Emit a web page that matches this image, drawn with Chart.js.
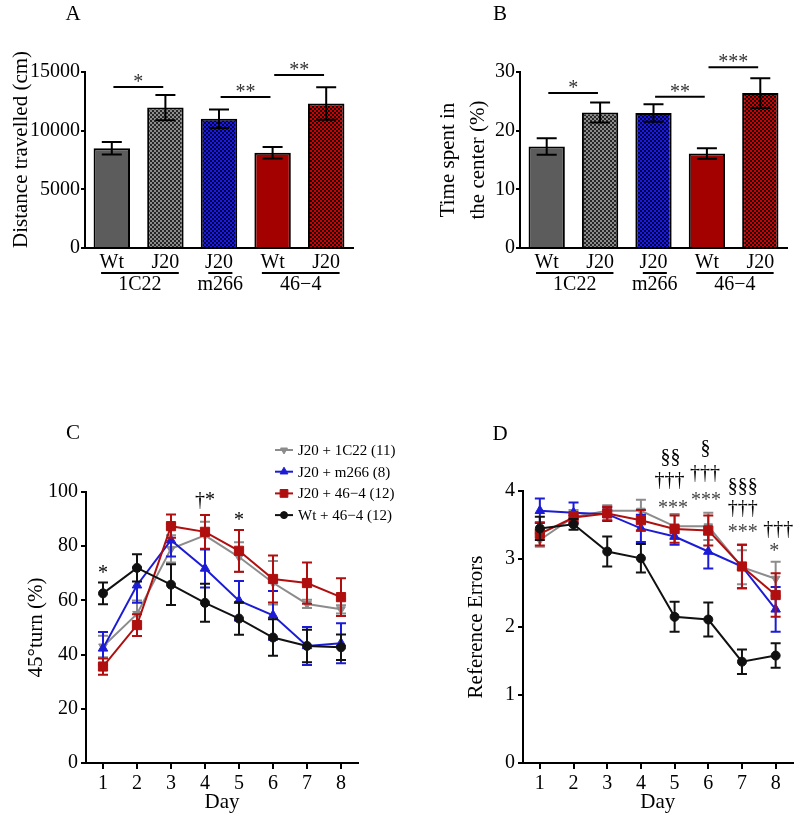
<!DOCTYPE html>
<html>
<head>
<meta charset="utf-8">
<script src="https://cdn.jsdelivr.net/npm/chart.js@4.4.1/dist/chart.umd.min.js"></script>
<style>
  body { margin: 0; background: #fff; }
  #fig { position: relative; width: 800px; height: 815px; background: #fff; }
  #fig canvas { position: absolute; }
</style>
</head>
<body>
<div id="fig">
  <canvas id="chartA" width="400" height="300" style="left:0;top:0"></canvas>
  <canvas id="chartB" width="400" height="300" style="left:400px;top:0"></canvas>
  <canvas id="chartC" width="400" height="435" style="left:0;top:380px"></canvas>
  <canvas id="chartD" width="400" height="435" style="left:400px;top:380px"></canvas>
</div>
<script>
// ---- data ----
const barLabels = ['Wt', 'J20', 'J20', 'Wt', 'J20'];
const groupNames = ['1C22', 'm266', '46\u22124'];
const groupFirst = [0, 2, 3];
const groupLast = [1, 2, 4];

const distance = [8500, 11970, 11010, 8120, 12310];
const distanceErr = [540, 1080, 790, 490, 1380];
const centerTime = [17.3, 23.1, 23.0, 16.1, 26.4];
const centerTimeErr = [1.4, 1.7, 1.5, 0.9, 2.55];

// significance bars: pairs of bar indices, height in data units
const sigA = [
  { from: 0, to: 1, y: 13720, mark: '*' },
  { from: 2, to: 3, y: 12870, mark: '**' },
  { from: 3, to: 4, y: 14750, mark: '**' }
];
const sigB = [
  { from: 0, to: 1, y: 26.4, mark: '*' },
  { from: 2, to: 3, y: 25.8, mark: '**' },
  { from: 3, to: 4, y: 30.8, mark: '***' }
];

const days = ['1', '2', '3', '4', '5', '6', '7', '8'];
const groupLabels = ['J20 + 1C22 (11)', 'J20 + m266 (8)', 'J20 + 46\u22124 (12)', 'Wt + 46\u22124 (12)'];

const turnGray = [43, 55, 79, 84, 76, 66.5, 58.7, 56.7];
const turnGrayErr = [4, 5, 5, 5, 5.5, 8, 1.5, 1.5];
const turnBlue = [42.3, 65.6, 82.2, 71.8, 59.9, 54.5, 43.2, 44.2];
const turnBlueErr = [6, 6.5, 6, 7, 7.3, 9, 7, 7.4];
const turnRed = [35.6, 50.9, 87.4, 85.3, 78.3, 67.9, 66.4, 61.2];
const turnRedErr = [3, 4, 4.3, 6.2, 7.7, 8.7, 7.6, 7];
const turnBlack = [62.6, 72, 65.8, 59.1, 53.3, 46.3, 43.2, 42.7];
const turnBlackErr = [4, 5, 7.5, 7, 6, 6.7, 6, 4.7];

const refGray = [3.28, 3.62, 3.71, 3.71, 3.48, 3.48, 2.88, 2.71];
const refGrayErr = [0.1, 0.1, 0.08, 0.16, 0.18, 0.2, 0.25, 0.25];
const refBlue = [3.71, 3.68, 3.66, 3.45, 3.33, 3.11, 2.89, 2.26];
const refBlueErr = [0.18, 0.15, 0.1, 0.2, 0.12, 0.25, 0.32, 0.33];
const refRed = [3.37, 3.61, 3.67, 3.57, 3.44, 3.42, 2.89, 2.47];
const refRedErr = [0.17, 0.08, 0.1, 0.15, 0.2, 0.22, 0.32, 0.32];
const refBlack = [3.45, 3.51, 3.11, 3.01, 2.15, 2.11, 1.49, 1.58];
const refBlackErr = [0.17, 0.08, 0.22, 0.21, 0.22, 0.25, 0.18, 0.18];

// stat marks: day index (category), height in data units
const notesC = [
  { x: 0, y: 71.6, text: '*' },
  { x: 3, y: 97, text: '\u2020*' },
  { x: 4, y: 91.1, text: '*' }
];
const notesD = [
  { x: 3.88, y: 4.49, text: '\u00a7\u00a7' },
  { x: 3.85, y: 4.15, text: '\u2020\u2020\u2020' },
  { x: 3.95, y: 3.81, text: '***', color: '#444' },
  { x: 4.92, y: 4.62, text: '\u00a7' },
  { x: 4.9, y: 4.26, text: '\u2020\u2020\u2020' },
  { x: 4.93, y: 3.93, text: '***', color: '#444' },
  { x: 6.02, y: 4.07, text: '\u00a7\u00a7\u00a7' },
  { x: 6.02, y: 3.74, text: '\u2020\u2020\u2020' },
  { x: 6.02, y: 3.46, text: '***', color: '#444' },
  { x: 7.08, y: 3.43, text: '\u2020\u2020\u2020' },
  { x: 6.96, y: 3.18, text: '*', color: '#444' }
];

// ---- look ----
const FONT = 'Liberation Serif';
Chart.defaults.font.family = FONT;
Chart.defaults.color = '#000';
Chart.defaults.animation = false;

const colors = {
  gray: '#8c8c8c',
  blue: '#1c1cd6',
  red: '#b00f0f',
  black: '#111111'
};

function checker(light, dark) {
  const c = document.createElement('canvas');
  c.width = c.height = 4;
  const g = c.getContext('2d');
  g.fillStyle = dark;
  g.fillRect(0, 0, 4, 4);
  g.fillStyle = light;
  g.fillRect(0, 0, 2, 2);
  g.fillRect(2, 2, 2, 2);
  return g.createPattern(c, 'repeat');
}

const barFills = [
  '#5c5c5c',
  checker('#8c8c8c', '#262626'),
  checker('#1818f0', '#050538'),
  '#a30000',
  checker('#d00000', '#1a0000')
];

// ---- plugins ----
const errorBars = {
  id: 'errorBars',
  afterDatasetDraw(chart, args) {
    const ds = chart.data.datasets[args.index];
    if (!ds.errors) return;
    const ctx = chart.ctx;
    const ys = chart.scales.y;
    const w = ds.capHalf || 5;
    ctx.save();
    ctx.strokeStyle = ds.errorColor || ds.borderColor;
    ctx.lineWidth = 2;
    args.meta.data.forEach((el, i) => {
      const top = ys.getPixelForValue(ds.data[i] + ds.errors[i]);
      const bot = ys.getPixelForValue(ds.data[i] - ds.errors[i]);
      ctx.beginPath();
      ctx.moveTo(el.x, top); ctx.lineTo(el.x, bot);
      ctx.moveTo(el.x - w, top); ctx.lineTo(el.x + w, top);
      ctx.moveTo(el.x - w, bot); ctx.lineTo(el.x + w, bot);
      ctx.stroke();
    });
    ctx.restore();
  }
};

function inkText(ctx, text, x, y) {
  // centre the glyph ink on (x, y)
  const m = ctx.measureText(text);
  ctx.textAlign = 'center';
  ctx.textBaseline = 'alphabetic';
  ctx.fillText(text, x, y + (m.actualBoundingBoxAscent - m.actualBoundingBoxDescent) / 2);
}

const notes = {
  id: 'notes',
  afterDraw(chart, args, opts) {
    if (!opts.items) return;
    const ctx = chart.ctx;
    ctx.save();
    ctx.font = opts.size + 'px ' + FONT;
    opts.items.forEach(n => {
      ctx.fillStyle = n.color || '#000';
      inkText(ctx, n.text, chart.scales.x.getPixelForValue(n.x), chart.scales.y.getPixelForValue(n.y));
    });
    ctx.restore();
  }
};

const brackets = {
  id: 'brackets',
  afterDraw(chart, args, opts) {
    if (!opts.items) return;
    const ctx = chart.ctx, xs = chart.scales.x, ys = chart.scales.y;
    ctx.save();
    ctx.strokeStyle = '#000';
    ctx.lineWidth = 2;
    ctx.fillStyle = '#333';
    ctx.font = '20px ' + FONT;
    opts.items.forEach(b => {
      const x1 = xs.getPixelForValue(b.from + 0.03);
      const x2 = xs.getPixelForValue(b.to - 0.04);
      const y = ys.getPixelForValue(b.y);
      ctx.beginPath();
      ctx.moveTo(x1, y); ctx.lineTo(x2, y);
      ctx.stroke();
      inkText(ctx, b.mark, (x1 + x2) / 2, y - 9);
    });
    ctx.restore();
  }
};

const groups = {
  id: 'groups',
  afterDraw(chart, args, opts) {
    if (!opts.names) return;
    const ctx = chart.ctx, xs = chart.scales.x;
    const base = chart.chartArea.bottom;
    ctx.save();
    ctx.strokeStyle = '#000';
    ctx.lineWidth = 2;
    ctx.fillStyle = '#000';
    ctx.font = '20px ' + FONT;
    opts.names.forEach((name, i) => {
      const x1 = xs.getPixelForValue(opts.first[i] - 0.2);
      const x2 = xs.getPixelForValue(opts.last[i] + 0.25);
      ctx.beginPath();
      ctx.moveTo(x1, base + 25); ctx.lineTo(x2, base + 25);
      ctx.stroke();
      ctx.textAlign = 'center';
      ctx.textBaseline = 'middle';
      ctx.fillText(name, (x1 + x2) / 2, base + 37);
    });
    ctx.restore();
  }
};

const panelLetter = {
  id: 'panelLetter',
  afterDraw(chart, args, opts) {
    if (!opts.text) return;
    const ctx = chart.ctx;
    ctx.save();
    ctx.font = '21px ' + FONT;
    ctx.fillStyle = '#000';
    inkText(ctx, opts.text, opts.x, opts.y);
    ctx.restore();
  }
};

const lineLegend = {
  id: 'lineLegend',
  afterDraw(chart, args, opts) {
    if (!opts.show) return;
    const ctx = chart.ctx;
    ctx.save();
    chart.data.datasets.forEach((ds, i) => {
      const y = opts.y + i * opts.gap;
      ctx.strokeStyle = ds.borderColor;
      ctx.fillStyle = ds.backgroundColor;
      ctx.lineWidth = 2;
      ctx.beginPath();
      ctx.moveTo(opts.x, y); ctx.lineTo(opts.x + 18, y);
      ctx.stroke();
      ctx.lineWidth = 1;
      Chart.helpers.drawPoint(ctx, {
        pointStyle: ds.pointStyle, radius: ds.pointRadius - 1,
        rotation: ds.pointRotation || 0, borderWidth: 1
      }, opts.x + 9, y);
      ctx.fillStyle = '#000';
      ctx.font = '15px ' + FONT;
      ctx.textAlign = 'left';
      ctx.textBaseline = 'middle';
      ctx.fillText(ds.label, opts.x + 23, y + 1);
    });
    ctx.restore();
  }
};

Chart.register(errorBars, notes, brackets, groups, panelLetter, lineLegend);

// ---- shared axis pieces ----
const tickFont = { family: FONT, size: 20 };
const titleFont = { family: FONT, size: 21 };

function yAxis(max, step, width, tickLen, title) {
  return {
    min: 0, max: max,
    ticks: { stepSize: step, font: tickFont, color: '#000', padding: tickLen === 4 ? 1 : 3, callback: v => String(v) },
    grid: { display: true, drawOnChartArea: false, tickLength: tickLen, color: '#000', lineWidth: 2 },
    border: { color: '#000', width: 2 },
    title: title,
    afterFit(s) { s.width = width; s.paddingTop = 0; s.paddingBottom = 0; }
  };
}

function barChart(id, values, errs, sig, yMax, yStep, yWidth, pad, title, letter) {
  return new Chart(id, {
    type: 'bar',
    data: {
      labels: barLabels,
      datasets: [{
        data: values,
        errors: errs,
        errorColor: '#000',
        capHalf: 10,
        backgroundColor: barFills,
        borderColor: '#000',
        borderWidth: 2,
        barPercentage: 0.68,
        categoryPercentage: 1
      }]
    },
    options: {
      responsive: false,
      layout: { padding: pad },
      scales: {
        x: {
          grid: { display: false, drawTicks: false },
          border: { color: '#000', width: 2 },
          ticks: { font: tickFont, color: '#000', padding: 3 },
          afterFit(s) { s.height = 52; s.paddingLeft = 0; s.paddingRight = 0; }
        },
        y: yAxis(yMax, yStep, yWidth, 4, title)
      },
      plugins: {
        legend: { display: false },
        tooltip: { enabled: false },
        brackets: { items: sig },
        groups: { names: groupNames, first: groupFirst, last: groupLast },
        panelLetter: letter
      }
    }
  });
}

barChart('chartA', distance, distanceErr, sigA, 15000, 5000, 85,
  { left: 0, top: 72, right: 47, bottom: 0 },
  { display: true, text: 'Distance travelled (cm)', font: titleFont, color: '#000', align: 'start', padding: { top: 9, bottom: 0 } },
  { text: 'A', x: 73, y: 13 });

barChart('chartB', centerTime, centerTimeErr, sigB, 30, 10, 120,
  { left: 0, top: 72, right: 13, bottom: 0 },
  { display: true, text: ['Time spent in', 'the center (%)'], font: { family: FONT, size: 21, lineHeight: 1.43 }, color: '#000', padding: { top: 33, bottom: 0 } },
  { text: 'B', x: 100, y: 13 });

function lineSets(gray, grayErr, blue, blueErr, red, redErr, black, blackErr) {
  const base = { borderWidth: 2, pointBorderWidth: 1, tension: 0 };
  return [
    Object.assign({ label: groupLabels[0], data: gray, errors: grayErr, borderColor: colors.gray, backgroundColor: colors.gray, pointBorderColor: colors.gray, pointStyle: 'triangle', pointRotation: 180, pointRadius: 5, order: 3 }, base),
    Object.assign({ label: groupLabels[1], data: blue, errors: blueErr, borderColor: colors.blue, backgroundColor: colors.blue, pointBorderColor: colors.blue, pointStyle: 'triangle', pointRadius: 5.5, order: 2 }, base),
    Object.assign({ label: groupLabels[2], data: red, errors: redErr, borderColor: colors.red, backgroundColor: colors.red, pointBorderColor: colors.red, pointStyle: 'rect', pointRadius: 6.5, order: 1 }, base),
    Object.assign({ label: groupLabels[3], data: black, errors: blackErr, borderColor: colors.black, backgroundColor: colors.black, pointBorderColor: colors.black, pointStyle: 'circle', pointRadius: 4.5, order: 0 }, base)
  ];
}

function lineChart(id, sets, yMax, yStep, yWidth, pad, title, letter, noteItems, legend) {
  return new Chart(id, {
    type: 'line',
    data: { labels: days, datasets: sets },
    options: {
      responsive: false,
      layout: { padding: pad },
      scales: {
        x: {
          type: 'category',
          offset: true,
          grid: { display: true, drawOnChartArea: false, offset: false, tickLength: 6, color: '#000', lineWidth: 2 },
          border: { color: '#000', width: 2 },
          ticks: { font: tickFont, color: '#000', padding: 3 },
          title: { display: true, text: 'Day', font: titleFont, color: '#000', padding: { top: 0, bottom: 0 } },
          afterFit(s) { s.height = 52; s.paddingLeft = 0; s.paddingRight = 0; }
        },
        y: yAxis(yMax, yStep, yWidth, 5, title)
      },
      plugins: {
        legend: { display: false },
        tooltip: { enabled: false },
        notes: { items: noteItems, size: 20 },
        panelLetter: letter,
        lineLegend: legend
      }
    }
  });
}

lineChart('chartC',
  lineSets(turnGray, turnGrayErr, turnBlue, turnBlueErr, turnRed, turnRedErr, turnBlack, turnBlackErr),
  100, 20, 86,
  { left: 0, top: 112, right: 42, bottom: 0 },
  { display: true, text: '45\u00b0turn (%)', font: titleFont, color: '#000', padding: { top: 24, bottom: 0 } },
  { text: 'C', x: 73, y: 52 },
  notesC,
  { show: true, x: 275, y: 70, gap: 21.7 });

lineChart('chartD',
  lineSets(refGray, refGrayErr, refBlue, refBlueErr, refRed, refRedErr, refBlack, refBlackErr),
  4, 1, 123,
  { left: 0, top: 111, right: 3, bottom: 0 },
  { display: true, text: 'Reference Errors', font: titleFont, color: '#000', padding: { top: 64, bottom: 0 } },
  { text: 'D', x: 100, y: 53 },
  notesD,
  { show: false });
</script>
</body>
</html>
